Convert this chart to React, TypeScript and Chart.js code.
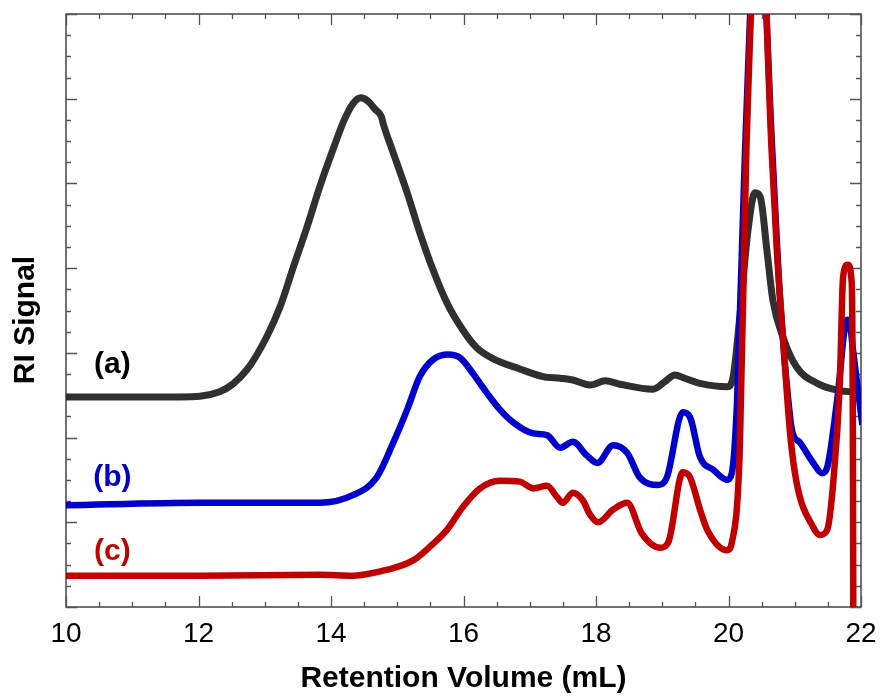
import React, { useEffect, useRef } from "react";
import { Chart, registerables } from "chart.js";

Chart.register(...registerables);

// Retention volume (mL) and RI signal (arbitrary units)
const aX = [10.0, 10.82, 11.72, 12.32, 12.73, 13.03, 13.23, 13.43, 13.64, 13.83, 14.03, 14.2, 14.33, 14.45, 14.56, 14.66, 14.76, 14.79, 14.94, 15.15, 15.34, 15.54, 15.75, 15.99, 16.2, 16.45, 16.85, 17.2, 17.46, 17.65, 17.91, 18.14, 18.36, 18.86, 19.04, 19.19, 19.34, 19.57, 19.98, 20.07, 20.17, 20.29, 20.4, 20.48, 20.58, 20.67, 20.82, 21.03, 21.34, 21.64, 22.02];
const aY = [2.48, 2.48, 2.48, 2.54, 2.8, 3.19, 3.54, 4.01, 4.49, 4.96, 5.4, 5.75, 5.94, 6.01, 5.97, 5.88, 5.79, 5.7, 5.36, 4.89, 4.42, 3.98, 3.59, 3.27, 3.06, 2.93, 2.81, 2.72, 2.7, 2.68, 2.62, 2.67, 2.63, 2.57, 2.66, 2.74, 2.7, 2.64, 2.6, 2.72, 3.42, 4.42, 4.89, 4.84, 4.21, 3.62, 3.19, 2.83, 2.64, 2.56, 2.53];

const bX = [10.0, 12.02, 13.83, 14.33, 14.69, 14.94, 15.15, 15.34, 15.54, 15.77, 15.95, 16.14, 16.35, 16.55, 16.75, 17.05, 17.26, 17.46, 17.65, 17.86, 18.02, 18.26, 18.47, 18.66, 18.94, 19.07, 19.31, 19.42, 19.57, 19.77, 19.98, 20.05, 20.13, 20.25, 20.45, 20.66, 20.78, 20.93, 20.97, 21.08, 21.28, 21.41, 21.49, 21.64, 21.79, 21.83, 21.88, 22.02];
const bY = [1.2, 1.23, 1.23, 1.32, 1.53, 1.94, 2.33, 2.72, 2.92, 2.98, 2.94, 2.76, 2.53, 2.33, 2.18, 2.05, 2.03, 1.88, 1.95, 1.79, 1.7, 1.91, 1.82, 1.53, 1.44, 1.53, 2.3, 2.24, 1.77, 1.62, 1.5, 1.58, 2.44, 5.4, 8.5, 5.4, 3.62, 2.24, 2.05, 1.94, 1.7, 1.58, 1.65, 2.44, 3.39, 3.35, 3.03, 2.15];

const cX = [10.0, 12.02, 13.83, 14.33, 14.85, 15.24, 15.49, 15.75, 15.99, 16.25, 16.55, 16.85, 17.05, 17.26, 17.41, 17.5, 17.65, 17.8, 17.91, 18.03, 18.26, 18.47, 18.69, 18.97, 19.09, 19.31, 19.42, 19.57, 19.68, 19.98, 20.05, 20.17, 20.27, 20.47, 20.65, 20.73, 20.82, 20.93, 21.03, 21.28, 21.38, 21.49, 21.58, 21.68, 21.73, 21.8, 21.86, 21.875, 21.885];
const cY = [0.37, 0.37, 0.38, 0.37, 0.44, 0.55, 0.71, 0.91, 1.18, 1.4, 1.49, 1.48, 1.4, 1.43, 1.3, 1.23, 1.35, 1.26, 1.09, 1.0, 1.15, 1.23, 0.87, 0.7, 0.76, 1.59, 1.53, 1.15, 0.91, 0.67, 0.76, 1.85, 5.4, 8.5, 5.4, 4.21, 3.21, 2.05, 1.46, 0.94, 0.85, 0.91, 1.46, 2.64, 3.9, 4.04, 3.83, 2.5, -0.4];

const seriesLabels = ["(a)", "(b)", "(c)"];
const seriesColors = ["#303030", "#0000cc", "#c00000"];
const labelX = [10.7, 10.7, 10.7];
const labelY = [2.86, 1.52, 0.65];

const xMin = 10;
const xMax = 22;
const xTickLabels = [10, 12, 14, 16, 18, 20, 22];
const yMin = 0;
const yMax = 7;

const xTitle = "Retention Volume (mL)";
const yTitle = "RI Signal";

const FONT = '"Liberation Sans", Arial, sans-serif';

const pts = (xs: number[], ys: number[]) => xs.map((x, i) => ({ x, y: ys[i] }));

const framePlugin = {
  id: "frame",
  beforeDatasetsDraw(chart: any) {
    const { ctx, chartArea: ca, scales } = chart;
    const xs = scales.x;
    const ys = scales.y;
    ctx.save();
    ctx.strokeStyle = "#444";
    ctx.lineWidth = 1.5;
    ctx.strokeRect(ca.left, ca.top, ca.right - ca.left, ca.bottom - ca.top);
    ctx.lineWidth = 1.3;
    ctx.strokeStyle = "#555";
    for (let i = 0; i <= (xMax - xMin) * 2; i++) {
      const v = xMin + i * 0.5;
      const px = Math.round(xs.getPixelForValue(v)) + 0.5;
      const major = i % 4 === 0;
      const len = major ? 11 : 5;
      ctx.beginPath();
      ctx.moveTo(px, ca.bottom);
      ctx.lineTo(px, ca.bottom - len);
      ctx.moveTo(px, ca.top);
      ctx.lineTo(px, ca.top + len);
      ctx.stroke();
    }
    for (let i = 0; i <= (yMax - yMin) * 4; i++) {
      const v = yMin + i * 0.25;
      const py = Math.round(ys.getPixelForValue(v)) + 0.5;
      const major = i % 4 === 0;
      const len = major ? 11 : 5;
      ctx.beginPath();
      ctx.moveTo(ca.left, py);
      ctx.lineTo(ca.left + len, py);
      ctx.moveTo(ca.right, py);
      ctx.lineTo(ca.right - len, py);
      ctx.stroke();
    }
    ctx.restore();
  },
  afterDraw(chart: any) {
    const { ctx, chartArea: ca, scales } = chart;
    const xs = scales.x;
    const ys = scales.y;
    ctx.save();
    ctx.fillStyle = "#000";
    ctx.textAlign = "center";
    ctx.textBaseline = "middle";
    ctx.font = `28px ${FONT}`;
    xTickLabels.forEach((v) => {
      ctx.fillText(String(v), xs.getPixelForValue(v), ca.bottom + 27);
    });
    ctx.font = `bold 30px ${FONT}`;
    ctx.fillText(xTitle, (ca.left + ca.right) / 2, ca.bottom + 72);
    ctx.save();
    ctx.translate(26, 320);
    ctx.rotate(-Math.PI / 2);
    ctx.fillText(yTitle, 0, 0);
    ctx.restore();
    ctx.font = `bold 30px ${FONT}`;
    seriesLabels.forEach((t, i) => {
      ctx.fillStyle = i === 0 ? "#000" : seriesColors[i];
      ctx.fillText(t, xs.getPixelForValue(labelX[i]), ys.getPixelForValue(labelY[i]));
    });
    ctx.restore();
  },
};

export default function App() {
  const ref = useRef<HTMLCanvasElement>(null);
  useEffect(() => {
    document.body.style.margin = "0";
    const chart = new Chart(ref.current as HTMLCanvasElement, {
      type: "line",
      data: {
        datasets: [
          { label: seriesLabels[0], data: pts(aX, aY), borderColor: seriesColors[0], borderWidth: 7, order: 2 },
          { label: seriesLabels[1], data: pts(bX, bY), borderColor: seriesColors[1], borderWidth: 6.5, order: 1 },
          { label: seriesLabels[2], data: pts(cX, cY), borderColor: seriesColors[2], borderWidth: 6.5, order: 0 },
        ],
      },
      options: {
        animation: false,
        responsive: false,
        maintainAspectRatio: false,
        elements: {
          point: { radius: 0 },
          line: { cubicInterpolationMode: "monotone", borderJoinStyle: "round", borderCapStyle: "butt", fill: false },
        },
        layout: { padding: { left: 66, top: 14, right: 20, bottom: 89 } },
        plugins: { legend: { display: false }, tooltip: { enabled: false }, title: { display: false } },
        scales: {
          x: { type: "linear", min: xMin, max: xMax, display: false },
          y: { type: "linear", min: yMin, max: yMax, display: false },
        },
      },
      plugins: [framePlugin],
    });
    return () => chart.destroy();
  }, []);
  return (
    <div style={{ width: 881, height: 696, background: "#fff" }}>
      <canvas ref={ref} width={881} height={696} style={{ display: "block" }} />
    </div>
  );
}
